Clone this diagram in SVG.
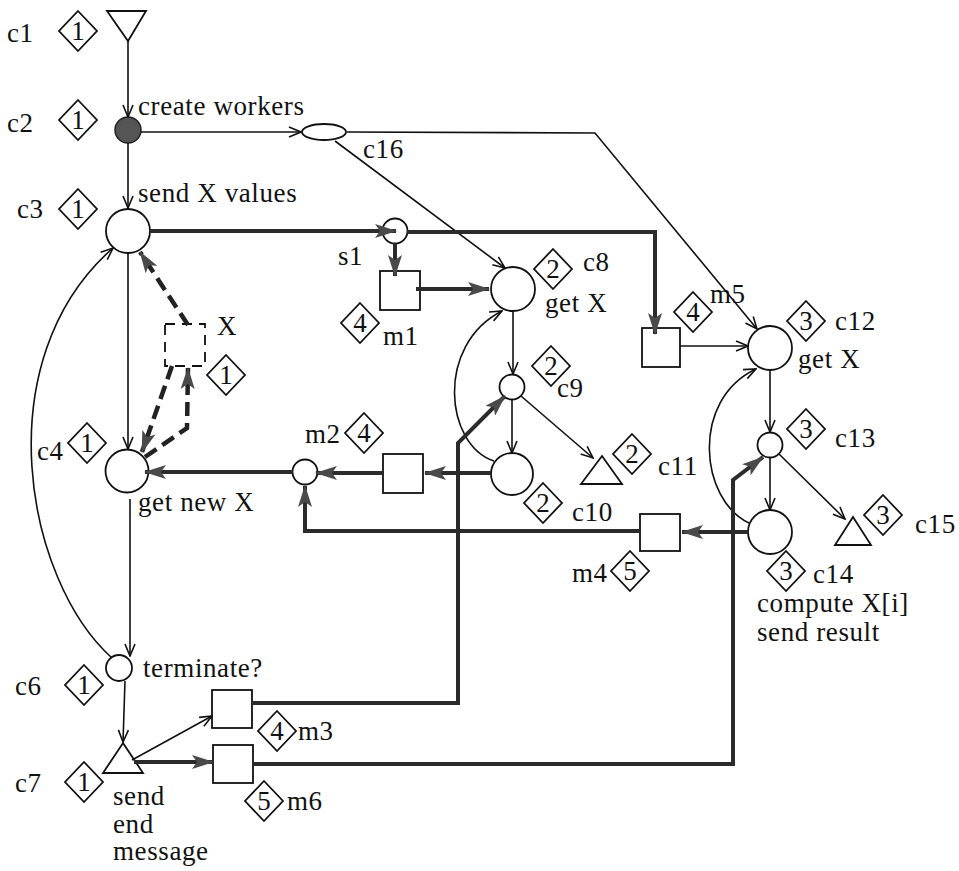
<svg xmlns="http://www.w3.org/2000/svg" width="959" height="871" viewBox="0 0 959 871">
<style>
text{font-family:"Liberation Serif","Times New Roman",serif;font-size:27px;fill:#111;letter-spacing:0.6px}
.num{font-size:27px;text-anchor:middle;letter-spacing:0}
.n{fill:#fff;stroke:#111;stroke-width:1.8}
.dia{fill:#fff;stroke:#111;stroke-width:1.8}
.thin{fill:none;stroke:#111;stroke-width:1.6}
.thick{fill:none;stroke:#2b2b2b;stroke-width:4}
.dash{fill:none;stroke:#222;stroke-width:4.5;stroke-dasharray:14 7}
.xbox{fill:#fff;stroke:#111;stroke-width:1.8;stroke-dasharray:10 7}
</style>
<defs>
<marker id="ao" viewBox="0 0 14 12" refX="13" refY="6" markerWidth="14" markerHeight="12" markerUnits="userSpaceOnUse" orient="auto"><path d="M1,1 L13,6 L1,11" fill="none" stroke="#111" stroke-width="1.6"/></marker>
<marker id="af" viewBox="0 0 22 14" refX="21" refY="7" markerWidth="22" markerHeight="14" markerUnits="userSpaceOnUse" orient="auto"><path d="M0,0 L22,7 L0,14 L5,7 z" fill="#4a4a4a"/></marker>
</defs>
<rect width="959" height="871" fill="#fff"/>

<g id="c1"><polygon class="n" points="107,11 146,11 128,41"/><text x="7" y="42">c1</text><polygon class="dia" points="78,11 97,31 78,51 59,31"/><text class="num" x="78" y="40">1</text></g>
<g id="c2"><circle cx="128" cy="130" r="13" fill="#555" stroke="#222" stroke-width="1.5"/><text x="7" y="132">c2</text><polygon class="dia" points="78,100 97,120 78,140 59,120"/><text class="num" x="78" y="129">1</text><text x="138" y="115">create workers</text></g>
<g id="c16"><ellipse class="n" cx="324" cy="132" rx="22" ry="8"/><text x="363" y="158">c16</text></g>
<g id="c3"><circle class="n" cx="128" cy="231" r="22"/><text x="17" y="218">c3</text><polygon class="dia" points="78,189 97,209 78,229 59,209"/><text class="num" x="78" y="218">1</text><text x="138" y="202">send X values</text></g>
<g id="s1"><circle class="n" cx="395" cy="231" r="12.5"/><text x="338" y="265">s1</text></g>
<g id="m1"><rect class="n" x="380" y="271" width="40" height="39"/><polygon class="dia" points="360,303 379,323 360,343 341,323"/><text class="num" x="360" y="332">4</text><text x="383" y="345">m1</text></g>
<g id="c8"><circle class="n" cx="513" cy="289" r="22"/><polygon class="dia" points="553,249 572,269 553,289 534,269"/><text class="num" x="553" y="278">2</text><text x="583" y="271">c8</text><text x="545" y="312">get X</text></g>
<g id="c9"><circle class="n" cx="512" cy="387" r="12.5"/><polygon class="dia" points="551,346 570,366 551,386 532,366"/><text class="num" x="551" y="375">2</text><text x="557" y="397">c9</text></g>
<g id="c10"><circle class="n" cx="512" cy="474" r="21"/><polygon class="dia" points="543,483 562,503 543,523 524,503"/><text class="num" x="543" y="512">2</text><text x="572" y="521">c10</text></g>
<g id="c11"><polygon class="n" points="602,456 622,484 581,484"/><polygon class="dia" points="632,434 651,454 632,474 613,454"/><text class="num" x="632" y="463">2</text><text x="658" y="475">c11</text></g>
<g id="m2"><rect class="n" x="383" y="454" width="40" height="39"/><circle class="n" cx="305" cy="472" r="12.5"/><text x="305" y="443">m2</text><polygon class="dia" points="364,413 383,433 364,453 345,433"/><text class="num" x="364" y="442">4</text></g>
<g id="c4"><circle class="n" cx="127" cy="471" r="21.5"/><text x="37" y="460">c4</text><polygon class="dia" points="87,423 106,443 87,463 68,443"/><text class="num" x="87" y="452">1</text><text x="138" y="511">get new X</text></g>
<g id="X"><rect class="xbox" x="165" y="324" width="40" height="42"/><text x="217" y="335">X</text><polygon class="dia" points="226,355 245,375 226,395 207,375"/><text class="num" x="226" y="384">1</text></g>
<g id="c6"><circle class="n" cx="119" cy="668" r="13"/><text x="15" y="695">c6</text><polygon class="dia" points="84,665 103,685 84,705 65,685"/><text class="num" x="84" y="694">1</text><text x="143" y="677">terminate?</text></g>
<g id="c7"><polygon class="n" points="123,743 143,773 103,773"/><text x="15" y="792">c7</text><polygon class="dia" points="84,762 103,782 84,802 65,782"/><text class="num" x="84" y="791">1</text><text x="113" y="805">send</text><text x="113" y="833">end</text><text x="113" y="860">message</text></g>
<g id="m3"><rect class="n" x="212" y="690" width="40" height="38"/><polygon class="dia" points="277,711 296,731 277,751 258,731"/><text class="num" x="277" y="740">4</text><text x="298" y="740">m3</text></g>
<g id="m6"><rect class="n" x="213" y="745" width="40" height="38"/><polygon class="dia" points="264,781 283,801 264,821 245,801"/><text class="num" x="264" y="810">5</text><text x="287" y="810">m6</text></g>
<g id="m5"><rect class="n" x="642" y="328" width="38" height="39"/><polygon class="dia" points="693,292 712,312 693,332 674,312"/><text class="num" x="693" y="321">4</text><text x="710" y="303">m5</text></g>
<g id="c12"><circle class="n" cx="770" cy="348" r="22"/><polygon class="dia" points="806,301 825,321 806,341 787,321"/><text class="num" x="806" y="330">3</text><text x="835" y="330">c12</text><text x="798" y="368">get X</text></g>
<g id="c13"><circle class="n" cx="770" cy="445" r="12.5"/><polygon class="dia" points="806,409 825,429 806,449 787,429"/><text class="num" x="806" y="438">3</text><text x="835" y="447">c13</text></g>
<g id="c14"><circle class="n" cx="770" cy="532" r="22"/><polygon class="dia" points="786,551 805,571 786,591 767,571"/><text class="num" x="786" y="580">3</text><text x="813" y="583">c14</text><text x="757" y="612">compute X[i]</text><text x="757" y="641">send result</text></g>
<g id="c15"><polygon class="n" points="853,517 871,545 835,545"/><polygon class="dia" points="883,495 902,515 883,535 864,515"/><text class="num" x="883" y="524">3</text><text x="915" y="533">c15</text></g>
<g id="m4"><rect class="n" x="640" y="514" width="40" height="37"/><text x="572" y="582">m4</text><polygon class="dia" points="630,551 649,571 630,591 611,571"/><text class="num" x="630" y="580">5</text></g>

<g id="connectors">
<path class="thin" d="M128,41 V117" marker-end="url(#ao)"/>
<path class="thin" d="M128,143 V208" marker-end="url(#ao)"/>
<path class="thin" d="M141,132 H301" marker-end="url(#ao)"/>
<path class="thin" d="M335,141 L505,268" marker-end="url(#ao)"/>
<path class="thin" d="M347,132 L595,133 L757,329" marker-end="url(#ao)"/>
<path class="thick" d="M150,231 H396" marker-end="url(#af)"/>
<path class="thick" d="M395,243 V276" marker-end="url(#af)"/>
<path class="thick" d="M416,289 H489" marker-end="url(#af)"/>
<path class="thick" d="M407,232 H655 V334" marker-end="url(#af)"/>
<path class="thin" d="M680,346 H748" marker-end="url(#ao)"/>
<path class="thin" d="M513,311 V374" marker-end="url(#ao)"/>
<path class="thin" d="M512,399 V453" marker-end="url(#ao)"/>
<path class="thin" d="M521,396 L593,458" marker-end="url(#ao)"/>
<path class="thin" d="M494,461 C445,445 435,345 502,311" marker-end="url(#ao)"/>
<path class="thick" d="M491,473 H425" marker-end="url(#af)"/>
<path class="thick" d="M383,473 H316" marker-end="url(#af)"/>
<path class="thick" d="M293,472 H145" marker-end="url(#af)"/>
<path class="thick" d="M640,531 H305 V486" marker-end="url(#af)"/>
<path class="thick" d="M748,532 H682" marker-end="url(#af)"/>
<path class="thin" d="M770,370 V432" marker-end="url(#ao)"/>
<path class="thin" d="M770,458 V510" marker-end="url(#ao)"/>
<path class="thin" d="M779,454 L845,519" marker-end="url(#ao)"/>
<path class="thin" d="M749,523 C700,500 690,400 756,369" marker-end="url(#ao)"/>
<path class="thin" d="M128,253 V449" marker-end="url(#ao)"/>
<path class="thin" d="M130,499 V656" marker-end="url(#ao)"/>
<path class="thin" d="M112,658 C25,580 -15,360 113,248" marker-end="url(#ao)"/>
<path class="thin" d="M125,681 L123,742" marker-end="url(#ao)"/>
<path class="thin" d="M132,760 L212,716" marker-end="url(#ao)"/>
<path class="thick" d="M134,762 H213" marker-end="url(#af)"/>
<path class="thick" d="M252,703 H458 V443 L505,396" marker-end="url(#af)"/>
<path class="thick" d="M253,764 H733 V480 L763,457" marker-end="url(#af)"/>
<path class="dash" d="M188,325 L140,252" marker-end="url(#af)"/>
<path class="dash" d="M172,366 L142,452" marker-end="url(#af)"/>
<path class="dash" d="M145,457 L187,428 L188,368" marker-end="url(#af)"/>
</g>
</svg>
